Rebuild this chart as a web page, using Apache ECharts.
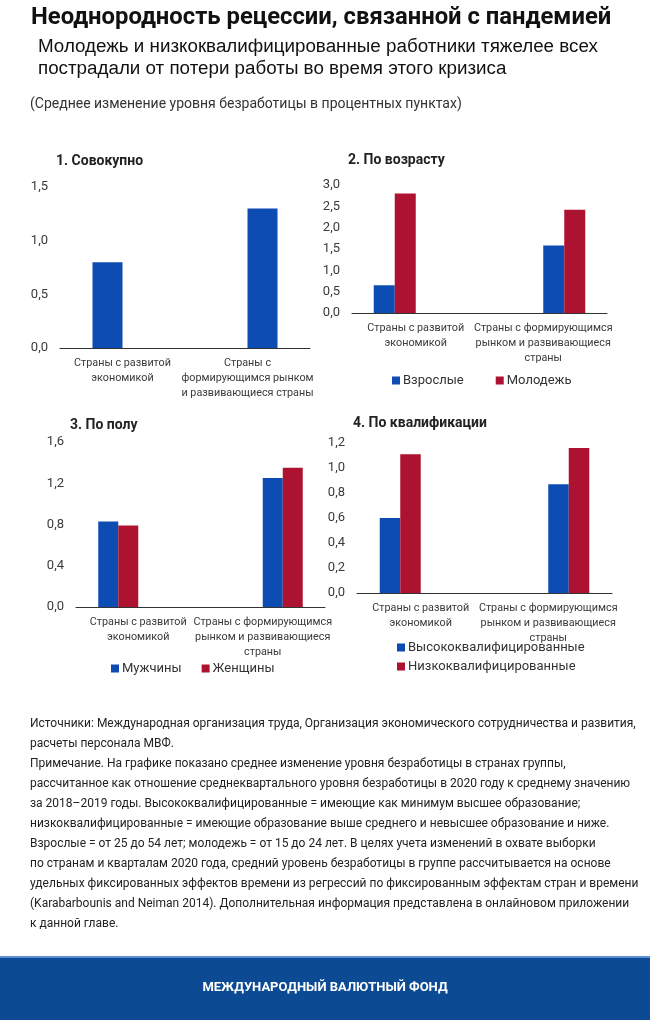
<!DOCTYPE html>
<html>
<head>
<meta charset="utf-8">
<script src="https://cdn.jsdelivr.net/npm/echarts@6/dist/echarts.min.js"></script>
<style>
html,body{margin:0;padding:0;background:#fff;}
#chart{width:650px;height:1020px;}
</style>
</head>
<body>
<div id="chart"></div>
<script>
// ---- Data ----
const catLabelsTotal = ['Страны с развитой\nэкономикой', 'Страны с\nформирующимся рынком\nи развивающиеся страны'];
const catLabels = ['Страны с развитой\nэкономикой', 'Страны с формирующимся\nрынком и развивающиеся\nстраны'];

const totalValues = [0.8, 1.3];

const ageNames = ['Взрослые', 'Молодежь'];
const ageAdults = [0.65, 1.58];
const ageYouth = [2.8, 2.42];

const sexNames = ['Мужчины', 'Женщины'];
const sexMen = [0.83, 1.25];
const sexWomen = [0.79, 1.35];

const skillNames = ['Высококвалифицированные', 'Низкоквалифицированные'];
const skillHigh = [0.6, 0.87];
const skillLow = [1.11, 1.16];

const yTicks1 = {max: 1.5, interval: 0.5};
const yTicks2 = {max: 3.0, interval: 0.5};
const yTicks3 = {max: 1.6, interval: 0.4};
const yTicks4 = {max: 1.2, interval: 0.2};

const panelTitles = ['1. Совокупно', '2. По возрасту', '3. По полу', '4. По квалификации'];

const headTitle = 'Неоднородность рецессии, связанной с пандемией';
const headSub = ['Молодежь и низкоквалифицированные работники тяжелее всех', 'пострадали от потери работы во время этого кризиса'];
const unitText = '(Среднее изменение уровня безработицы в процентных пунктах)';
const noteLines = [
 'Источники: Международная организация труда, Организация экономического сотрудничества и развития,',
 'расчеты персонала МВФ.',
 'Примечание. На графике показано среднее изменение уровня безработицы в странах группы,',
 'рассчитанное как отношение среднеквартального уровня безработицы в 2020 году к среднему значению',
 'за 2018–2019 годы. Высококвалифицированные = имеющие как минимум высшее образование;',
 'низкоквалифицированные = имеющие образование выше среднего и невысшее образование и ниже.',
 'Взрослые = от 25 до 54 лет; молодежь = от 15 до 24 лет. В целях учета изменений в охвате выборки',
 'по странам и кварталам 2020 года, средний уровень безработицы в группе рассчитывается на основе',
 'удельных фиксированных эффектов времени из регрессий по фиксированным эффектам стран и времени',
 '(Karabarbounis and Neiman 2014). Дополнительная информация представлена в онлайновом приложении',
 'к данной главе.'
];
const footerText = 'МЕЖДУНАРОДНЫЙ ВАЛЮТНЫЙ ФОНД';

// ---- Styles ----
const BLUE = '#0d4cb3';
const RED = '#ad1230';
const FF = '"Liberation Sans", Arial, sans-serif';
const FN = 'Roboto, "Liberation Sans", sans-serif';
const LABEL = '#3a3a3a';

function only(values, idx) { return values.map((v, i) => i === idx ? v : null); }

const grids = [
  {left: 60, top: 187, width: 250, height: 161},
  {left: 352, top: 185, width: 255, height: 128},
  {left: 76, top: 442, width: 249, height: 165},
  {left: 357, top: 443, width: 255, height: 150}
];
const yCfg = [yTicks1, yTicks2, yTicks3, yTicks4];
const xLabels = [catLabelsTotal, catLabels, catLabels, catLabels];

const xAxis = grids.map((g, i) => ({
  type: 'category', gridIndex: i, data: xLabels[i],
  axisLine: {lineStyle: {color: '#333', width: 1}},
  axisTick: {show: false},
  axisLabel: {interval: 0, fontSize: 10.8, lineHeight: 15, margin: 8, color: LABEL, fontFamily: FN}
}));
const yAxis = grids.map((g, i) => ({
  type: 'value', gridIndex: i, min: 0, max: yCfg[i].max, interval: yCfg[i].interval,
  axisLine: {show: false}, axisTick: {show: false}, splitLine: {show: false},
  axisLabel: {formatter: v => v.toFixed(1).replace('.', ','), color: LABEL, fontSize: 13, margin: 12, fontFamily: FN}
}));

function bar(name, data, gi, color, w) {
  return {type: 'bar', name, xAxisIndex: gi, yAxisIndex: gi, data, barWidth: w, barGap: '0%',
    itemStyle: {color}, silent: true, animation: false};
}

const series = [
  bar('Совокупно', only(totalValues, 0), 0, BLUE, 30),
  bar('Совокупно', only(totalValues, 1), 0, BLUE, 30),

  bar(ageNames[0], only(ageAdults, 0), 1, BLUE, 21),
  bar(ageNames[1], only(ageYouth, 0), 1, RED, 21),
  bar(ageNames[0], only(ageAdults, 1), 1, BLUE, 21),
  bar(ageNames[1], only(ageYouth, 1), 1, RED, 21),

  bar(sexNames[0], only(sexMen, 0), 2, BLUE, 20),
  bar(sexNames[1], only(sexWomen, 0), 2, RED, 20),
  bar(sexNames[0], only(sexMen, 1), 2, BLUE, 20),
  bar(sexNames[1], only(sexWomen, 1), 2, RED, 20),

  bar(skillNames[0], only(skillHigh, 0), 3, BLUE, 20.5),
  bar(skillNames[1], only(skillLow, 0), 3, RED, 20.5),
  bar(skillNames[0], only(skillHigh, 1), 3, BLUE, 20.5),
  bar(skillNames[1], only(skillLow, 1), 3, RED, 20.5)
];

const legendText = {fontSize: 13, color: '#333', fontFamily: FN, padding: [0, 0, 0, -2]};
const legend = [
  {data: ageNames, left: 392, top: 374, orient: 'horizontal', icon: 'rect', itemWidth: 8, itemHeight: 8, itemGap: 32, textStyle: legendText, selectedMode: false, padding: 0},
  {data: sexNames, left: 111, top: 662, orient: 'horizontal', icon: 'rect', itemWidth: 8, itemHeight: 8, itemGap: 20, textStyle: legendText, selectedMode: false, padding: 0},
  {data: skillNames, left: 397, top: 641, orient: 'vertical', icon: 'rect', itemWidth: 8, itemHeight: 8, itemGap: 6, textStyle: legendText, selectedMode: false, padding: 0}
];

function txt(text, x, y, size, weight, color, family, align) {
  return {type: 'text', x, y, silent: true,
    style: {text, fontSize: size, fontWeight: weight, fill: color, fontFamily: family || FF,
      textAlign: align || 'left', textVerticalAlign: 'middle', verticalAlign: 'middle'}};
}

const graphic = [
  txt(headTitle, 31, 18, 23.8, 'bold', '#111', 'Roboto'),
  txt(headSub[0], 38, 47, 18.8, 'normal', '#111', FF),
  txt(headSub[1], 38, 69, 18.8, 'normal', '#111', FF),
  txt(unitText, 30, 104, 14, 'normal', '#333', 'Roboto'),
  txt(panelTitles[0], 56, 161, 14, 'bold', '#222', FN),
  txt(panelTitles[1], 348, 160, 14, 'bold', '#222', FN),
  txt(panelTitles[2], 70, 425, 14, 'bold', '#222', FN),
  txt(panelTitles[3], 353, 423, 14, 'bold', '#222', FN),
  {type: 'rect', shape: {x: 0, y: 957, width: 650, height: 63}, style: {fill: '#0c4b93'}, silent: true},
  {type: 'rect', shape: {x: 0, y: 956, width: 650, height: 2}, style: {fill: '#5d8fd3'}, silent: true},
  txt(footerText, 325, 988, 13, 'bold', '#ffffff', 'Roboto', 'center')
];
noteLines.forEach((line, i) => graphic.push(txt(line, 30, 724 + i * 20, 12, 'normal', '#222', 'Roboto')));

const chart = echarts.init(document.getElementById('chart'), null, {renderer: 'canvas'});
chart.setOption({
  animation: false,
  backgroundColor: '#ffffff',
  grid: grids, xAxis, yAxis, series, legend, graphic
});
</script>
</body>
</html>
